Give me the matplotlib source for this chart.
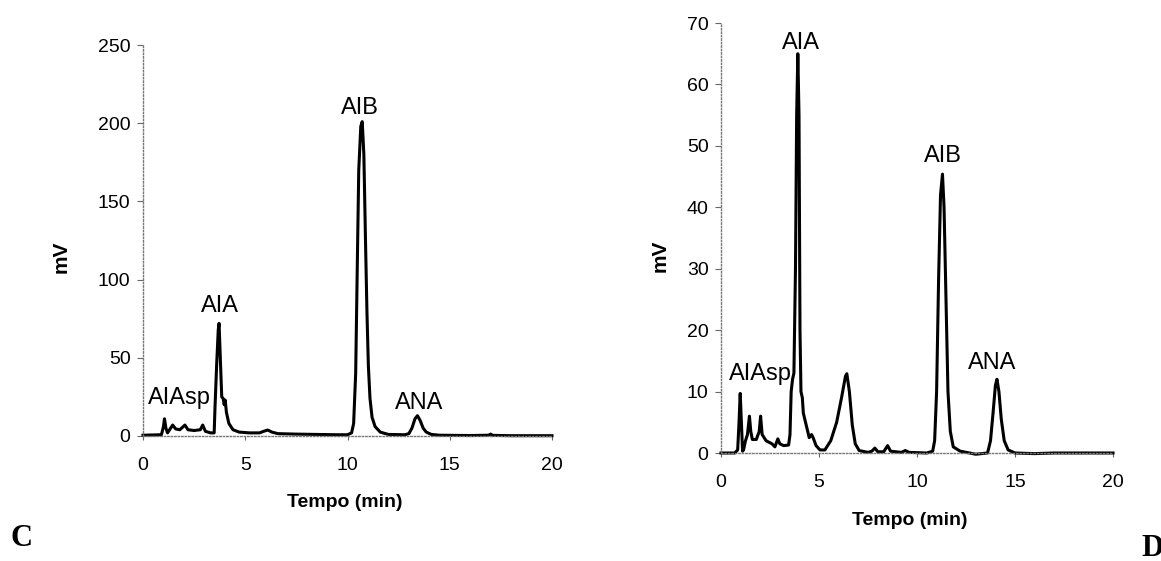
import matplotlib
matplotlib.use('Agg')
import matplotlib.pyplot as plt

# chromatogram C
time_c = [0.0, 0.9, 1.0, 1.05, 1.12, 1.2, 1.3, 1.45, 1.6, 1.8, 2.05, 2.2, 2.5, 2.8, 2.92,
          3.05, 3.3, 3.48, 3.52, 3.6, 3.68, 3.72, 3.78, 3.85, 3.92, 3.97, 4.02, 4.08, 4.2,
          4.4, 4.7, 5.2, 5.7, 5.9, 6.1, 6.3, 6.6, 7.5, 8.5, 9.5, 10.0, 10.2, 10.3, 10.4,
          10.48, 10.55, 10.65, 10.72, 10.8, 10.88, 10.95, 11.02, 11.1, 11.2, 11.35, 11.6,
          12.0, 12.8, 13.0, 13.15, 13.3, 13.42, 13.55, 13.7, 13.85, 14.1, 14.5, 16.0, 16.9,
          17.0, 17.1, 18.0, 20.0]
mv_c = [0.5, 0.8, 6, 11, 5, 2, 4, 7, 4.5, 4, 7, 4, 3.5, 4, 7,
        3, 2, 2, 18, 45, 68, 72, 50, 25, 24, 20, 23, 15, 8,
        4, 2.5, 2, 2, 3, 3.8, 2.5, 1.5, 1.2, 1, 0.8, 0.8, 2, 8, 40,
        110, 170, 198, 201, 180, 125, 80, 45, 24, 12, 6, 2.5,
        1, 0.8, 1.5, 5, 11, 13, 10, 5, 2.5, 1, 0.5, 0.3, 0.5,
        1.2, 0.4, 0.2, 0.2]

# chromatogram D
time_d = [0.0, 0.7, 0.85, 0.92, 0.98, 1.04, 1.1, 1.15, 1.25, 1.35, 1.45, 1.52, 1.6, 1.8,
          1.95, 2.02, 2.1, 2.3, 2.6, 2.75, 2.9, 3.0, 3.2, 3.45, 3.52, 3.58, 3.65, 3.72,
          3.8, 3.86, 3.92, 3.98, 4.03, 4.08, 4.15, 4.2, 4.35, 4.5, 4.62, 4.7, 4.85, 5.05,
          5.3, 5.6, 5.9, 6.15, 6.35, 6.42, 6.55, 6.7, 6.85, 7.05, 7.5, 7.7, 7.85, 8.0,
          8.3, 8.5, 8.65, 9.2, 9.4, 9.6, 10.5, 10.8, 10.9, 11.0, 11.1, 11.2, 11.3, 11.38,
          11.48, 11.58, 11.7, 11.85, 12.2, 13.0, 13.6, 13.75, 13.88, 14.0, 14.08, 14.18,
          14.3, 14.45, 14.65, 15.0, 16.0, 17.0, 20.0]
mv_d = [0, 0, 0.5, 5, 9.7, 5, 0.3, 0.5, 2, 3, 6, 3.5, 2.2, 2.2,
        3.5, 6, 3, 2, 1.5, 1, 2.3, 1.5, 1.2, 1.3, 3, 10, 12, 13,
        30, 55, 65, 55, 20, 10, 9, 6.5, 4.5, 2.5, 3, 2.5, 1.2, 0.5,
        0.5, 2, 5, 9, 12.5, 12.9, 10, 4.5, 1.5, 0.4, 0.1, 0.3, 0.8, 0.2,
        0.2, 1.2, 0.3, 0.1, 0.4, 0.1, 0, 0.3, 2, 10, 28, 42, 45.4, 40,
        25, 10, 3.5, 1, 0.3, -0.2, 0, 2, 6.5, 11, 12, 10,
        5.5, 2, 0.5, 0, -0.1, 0, 0]

peaks_c = ['AIAsp', 'AIA', 'AIB', 'ANA']
peak_pos_c = [(1.8, 24), (3.75, 83), (10.6, 210), (13.5, 21)]
peaks_d = ['AIAsp', 'AIA', 'AIB', 'ANA']
peak_pos_d = [(2.0, 12.8), (4.1, 66.8), (11.3, 48.3), (13.85, 14.6)]

plt.rcParams['font.family'] = ['Liberation Sans', 'DejaVu Sans']

fig = plt.figure(figsize=(11.61, 5.61), dpi=100)
ax1 = fig.add_axes([143 / 1161, 1 - 436 / 561, 409 / 1161, 391 / 561])
ax2 = fig.add_axes([721 / 1161, 1 - 453 / 561, 392 / 1161, 430 / 561])


def style(ax, ymax, yticks, xlab, ylab):
    ax.set_xlim(0, 20)
    ax.set_ylim(0, ymax)
    ax.set_xticks([0, 5, 10, 15, 20])
    ax.set_yticks(yticks)
    for s in ['top', 'right']:
        ax.spines[s].set_visible(False)
    for s in ['left', 'bottom']:
        ax.spines[s].set_color('#777777')
        ax.spines[s].set_linestyle((0, (1, 1.5)))
        ax.spines[s].set_linewidth(1)
    ax.tick_params(axis='x', length=3, pad=12, labelsize=14, color='#666666')
    ax.tick_params(axis='y', length=4, pad=5, labelsize=14, color='#666666')
    ax.set_xlabel('Tempo (min)', fontsize=14, fontweight='bold')
    ax.set_ylabel('mV', fontsize=15, fontweight='bold')
    ax.xaxis.label.set_va('center')
    ax.yaxis.label.set_va('center')
    ax.xaxis.set_label_coords(*xlab)
    ax.yaxis.set_label_coords(*ylab)


ax1.plot(time_c, mv_c, color='black', linewidth=2.2, clip_on=False)
ax2.plot(time_d, mv_d, color='black', linewidth=2.2, clip_on=False)

style(ax1, 250, [0, 50, 100, 150, 200, 250], (0.494, -0.169), (-0.200, 0.458))
style(ax2, 70, [0, 10, 20, 30, 40, 50, 60, 70], (0.482, -0.158), (-0.156, 0.458))

for name, (x, y) in zip(peaks_c, peak_pos_c):
    ax1.text(x, y, name, fontsize=17, ha='center', va='center')
for name, (x, y) in zip(peaks_d, peak_pos_d):
    ax2.text(x, y, name, fontsize=17, ha='center', va='center')

fig.text(22 / 1161, 1 - 538 / 561, 'C', fontsize=22, fontweight='bold',
         family='Liberation Serif', ha='center', va='center')
fig.text(1152 / 1161, 1 - 548 / 561, 'D', fontsize=22, fontweight='bold',
         family='Liberation Serif', ha='center', va='center')

fig.savefig('out.png', dpi=100)
